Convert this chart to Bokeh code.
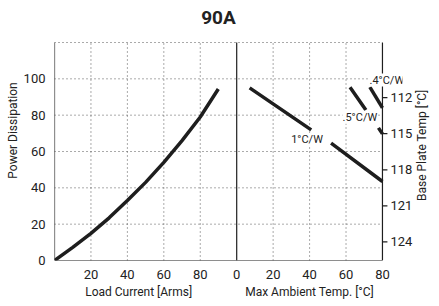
import math
from bokeh.plotting import figure
from bokeh.models import Range1d, LinearAxis, FixedTicker, Label
from bokeh.embed import file_html
from bokeh.resources import INLINE

FONT = "Roboto"
NAN = float("nan")

# ---- data ----
title_text = "90A"

# left panel: power dissipation vs load current
load_current = [0, 10, 20, 30, 40, 50, 60, 70, 80, 89.9]
power_dissipation = [0, 7.2, 14.9, 23.5, 33, 43, 54, 66, 79, 94.4]

# right panel: power dissipation vs max ambient temperature (NaN = gap for label)
amb_1cw = [7.1, 40.9, NAN, 51.8, 80.0]
pd_1cw = [95.0, 71.9, NAN, 64.6, 43.5]
amb_05cw = [62.2, 70.9, NAN, 77.8, 80.0]
pd_05cw = [95.4, 82.9, NAN, 73.0, 69.7]
amb_04cw = [73.1, 80.0]
pd_04cw = [95.4, 84.0]

curve_labels = ["1°C/W", ".5°C/W", ".4°C/W"]
curve_label_amb = [38.6, 67.6, 82.4]
curve_label_pd = [66.5, 78.9, 99.3]

left_ticks = [20, 40, 60, 80]
right_ticks = [0, 20, 40, 60, 80]
pd_ticks = [0, 20, 40, 60, 80, 100]
pd_grid = [20, 40, 60, 80, 100, 120]
base_plate_ticks = [112, 115, 118, 121, 124]
base_plate_bottom, base_plate_top = 125.54, 107.42   # values at Pd = 0 and Pd = 120

x_label_left = "Load Current  [Arms]"
x_label_right = "Max Ambient Temp. [°C]"
y_label_left = "Power Dissipation"
y_label_right = "Base Plate Temp [°C]"

# ---- layout constants ----
OFFSET = 100          # right panel starts at x=100 on the shared axis
X_END = 180           # right axis position
X_VIS = 191           # visible x extent (room for the .4°C/W label)
Y_END = 120
Y_VIS = 143.12        # visible y extent (room for the title)
INK = "#1e1e1e"
TXT = "#222222"

p = figure(width=439, height=306,
           x_range=Range1d(0, X_VIS), y_range=Range1d(0, Y_VIS),
           output_backend="svg", toolbar_location=None,
           min_border_left=54, min_border_right=35,
           min_border_top=0, min_border_bottom=46)
p.outline_line_color = None
p.background_fill_color = "white"
p.border_fill_color = "white"
p.xgrid.visible = False
p.ygrid.visible = False

bp_slope = (base_plate_top - base_plate_bottom) / Y_END
p.extra_y_ranges = {"bp": Range1d(start=base_plate_bottom,
                                  end=base_plate_bottom + bp_slope * Y_VIS)}

# dotted grid, limited to the chart box
gx = left_ticks + [OFFSET + t for t in right_ticks if 0 < t < 80]
p.segment(x0=gx, y0=[0] * len(gx), x1=gx, y1=[Y_END] * len(gx),
          line_color="#555555", line_dash="1 3", line_width=1)
p.segment(x0=[0] * len(pd_grid), y0=pd_grid, x1=[X_END] * len(pd_grid), y1=pd_grid,
          line_color="#555555", line_dash="1 3", line_width=1)

# solid frame lines: left axis, bottom axis, panel divider, right axis
p.segment(x0=[0, 0, OFFSET, X_END], y0=[0, 0, 0, 0],
          x1=[0, X_END, OFFSET, X_END], y1=[Y_END, 0, Y_END, Y_END],
          line_color=INK, line_width=1.2)

# right-axis tick marks (5 px outward)
tick_len = 5 * X_VIS / 350.0
p.segment(x0=[X_END] * len(base_plate_ticks), y0=base_plate_ticks,
          x1=[X_END + tick_len] * len(base_plate_ticks), y1=base_plate_ticks,
          line_color=INK, line_width=1.2, y_range_name="bp")


def style_axis(ax, size="13px"):
    ax.axis_line_color = None
    ax.major_tick_in = 0
    ax.major_tick_out = 0
    ax.major_tick_line_color = None
    ax.minor_tick_in = 0
    ax.minor_tick_out = 0
    ax.minor_tick_line_color = None
    ax.major_label_text_font = FONT
    ax.major_label_text_font_size = size
    ax.major_label_text_color = TXT
    ax.axis_label_text_font = FONT
    ax.axis_label_text_font_size = "12px"
    ax.axis_label_text_font_style = "normal"
    ax.axis_label_text_color = TXT


# left axis
ya = p.yaxis[0]
style_axis(ya)
ya.ticker = FixedTicker(ticks=pd_ticks)
ya.bounds = (0, 112.8)
ya.major_label_standoff = 9
ya.axis_label = y_label_left
ya.axis_label_standoff = 1

# bottom axis with tick numbers for both panels
xa = p.xaxis[0]
style_axis(xa)
xa.ticker = FixedTicker(ticks=left_ticks + [OFFSET + t for t in right_ticks])
xa.major_label_overrides = {OFFSET + t: str(t) for t in right_ticks}
xa.bounds = (0, X_END)
xa.major_label_standoff = 9

# second bottom axis carrying the two panel titles
LABEL_POS = [47, 140]
xb = LinearAxis(ticker=FixedTicker(ticks=LABEL_POS),
                major_label_overrides={LABEL_POS[0]: x_label_left, LABEL_POS[1]: x_label_right})
style_axis(xb, "12px")
xb.major_label_standoff = 3
p.add_layout(xb, "below")

# right axis numbers (base plate temperature)
ra = LinearAxis(y_range_name="bp", ticker=FixedTicker(ticks=base_plate_ticks))
style_axis(ra)
ra.major_label_standoff = -12
p.add_layout(ra, "right")

# right axis title, drawn as a rotated tick label so it can be placed freely
RB_ANCHOR = 120.6
rb = LinearAxis(y_range_name="bp", ticker=FixedTicker(ticks=[RB_ANCHOR]),
                major_label_overrides={RB_ANCHOR: y_label_right})
style_axis(rb, "12px")
rb.major_label_standoff = 7
rb.major_label_orientation = math.pi / 2
p.add_layout(rb, "right")

# curves
p.line(load_current, power_dissipation, line_width=3.5, line_color=INK)
for amb, pdv in ((amb_1cw, pd_1cw), (amb_05cw, pd_05cw), (amb_04cw, pd_04cw)):
    p.line([a + OFFSET for a in amb], pdv, line_width=3.5, line_color=INK)

for txt, a, v in zip(curve_labels, curve_label_amb, curve_label_pd):
    p.add_layout(Label(x=a + OFFSET, y=v, text=txt, text_font=FONT, text_font_size="11px",
                       text_align="center", text_baseline="middle", text_color=TXT,
                       background_fill_color="white"))

# title
p.add_layout(Label(x=90.0, y=133.9, text=title_text, text_font=FONT, text_font_size="19px",
                   text_font_style="bold", text_align="center", text_baseline="middle",
                   text_color=TXT))

open("out.html", "w").write(file_html(p, INLINE))
